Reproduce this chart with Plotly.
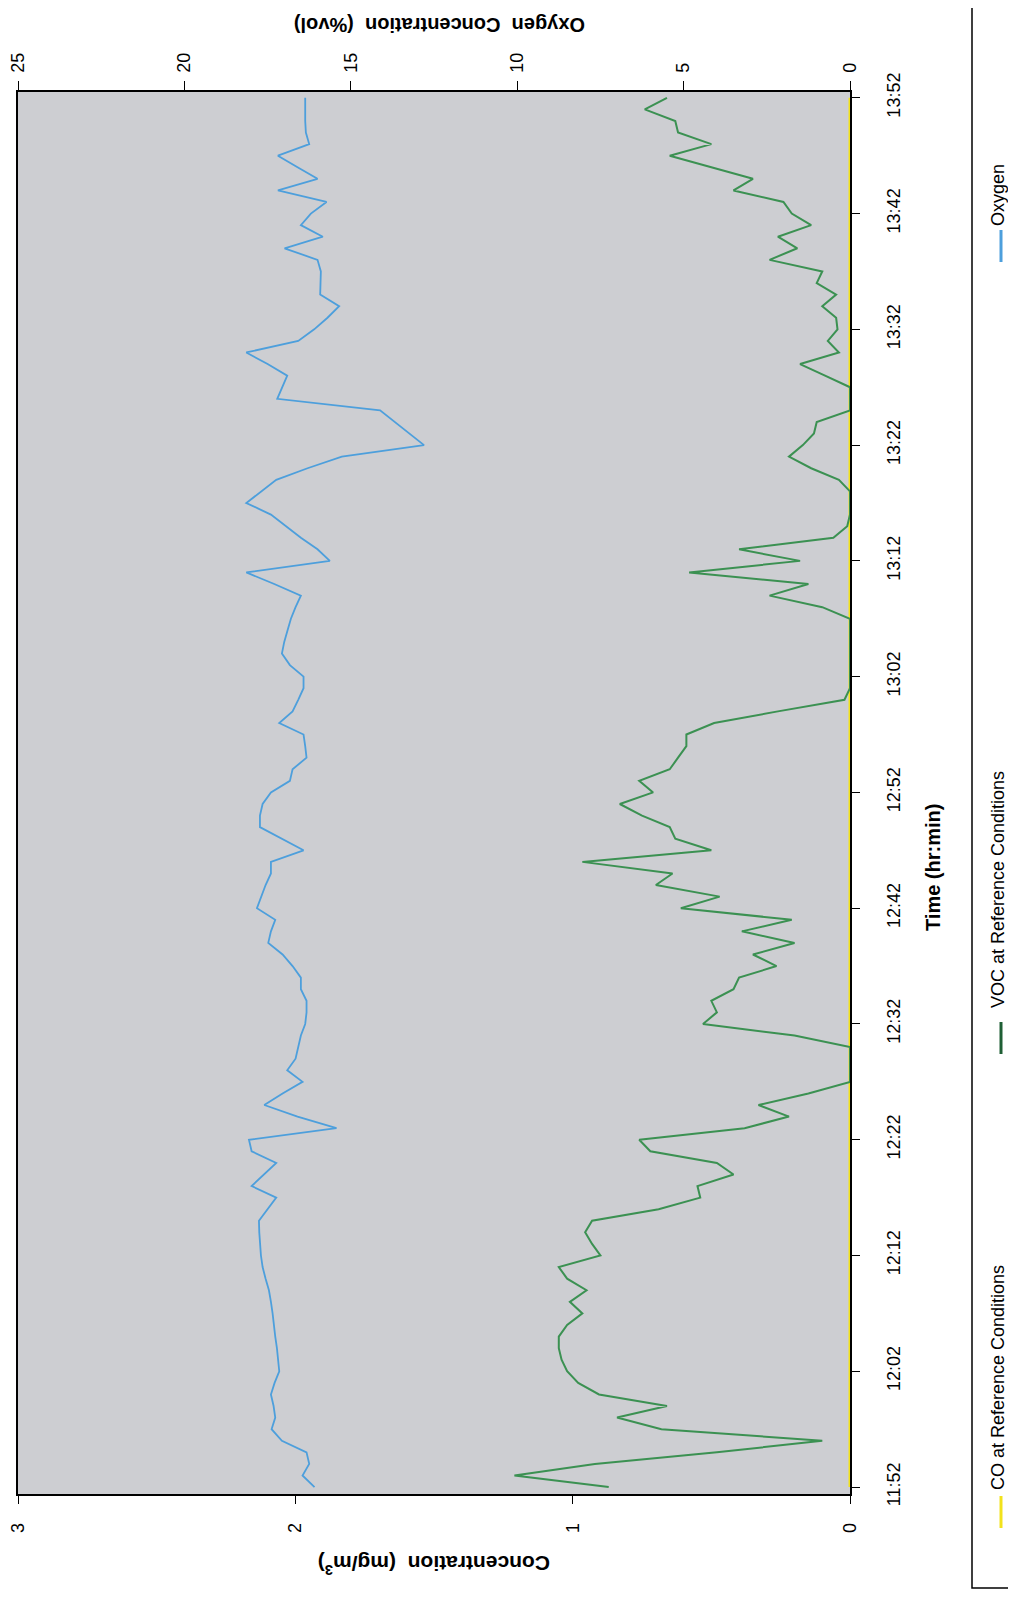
import plotly.graph_objects as go

# ---------------- data ----------------
# minutes after 11:52, one reading per minute
minutes = list(range(121))

time_tick_vals = [0, 10, 20, 30, 40, 50, 60, 70, 80, 90, 100, 110, 120]
time_tick_text = ["11:52", "12:02", "12:12", "12:22", "12:32", "12:42", "12:52",
                  "13:02", "13:12", "13:22", "13:32", "13:42", "13:52"]

conc_tick_vals = [0, 1, 2, 3]
oxy_tick_vals = [0, 5, 10, 15, 20, 25]

# CO at reference conditions (mg/m3) - flat at zero
co_ref = [0.0] * 121

# VOC at reference conditions (mg/m3)
voc_ref = [
    0.87, 1.21, 0.92, 0.48, 0.10, 0.68, 0.84, 0.66, 0.905, 0.98,
    1.02, 1.04, 1.05, 1.05, 1.02, 0.965, 1.01, 0.95, 1.02, 1.05,
    0.90, 0.93, 0.955, 0.93, 0.69, 0.54, 0.55, 0.42, 0.48, 0.72,
    0.76, 0.38, 0.22, 0.33, 0.15, 0.0, 0.0, 0.0, 0.0, 0.20,
    0.53, 0.48, 0.50, 0.42, 0.40, 0.265, 0.35, 0.20, 0.39, 0.21,
    0.61, 0.47, 0.70, 0.64, 0.965, 0.50, 0.63, 0.65, 0.75, 0.83,
    0.71, 0.76, 0.65, 0.62, 0.59, 0.59, 0.49, 0.26, 0.02, 0.0,
    0.0, 0.0, 0.0, 0.0, 0.0, 0.0, 0.10, 0.29, 0.15, 0.58,
    0.18, 0.40, 0.06, 0.01, 0.0, 0.0, 0.0, 0.04, 0.14, 0.22,
    0.17, 0.13, 0.12, 0.0, 0.0, 0.0, 0.09, 0.18, 0.04, 0.08,
    0.045, 0.05, 0.10, 0.05, 0.12, 0.10, 0.29, 0.19, 0.26, 0.14,
    0.21, 0.24, 0.42, 0.35, 0.50, 0.65, 0.50, 0.62, 0.63, 0.74,
    0.66,
]

# Oxygen (%vol)
oxygen = [
    16.09, 16.45, 16.25, 16.33, 17.07, 17.38, 17.27, 17.32, 17.40, 17.29,
    17.15, 17.18, 17.22, 17.27, 17.30, 17.35, 17.40, 17.46, 17.56, 17.65,
    17.70, 17.73, 17.75, 17.76, 17.50, 17.24, 17.98, 17.60, 17.24, 17.98,
    18.06, 15.43, 16.60, 17.60, 17.05, 16.45, 16.91, 16.66, 16.58, 16.50,
    16.37, 16.33, 16.33, 16.50, 16.50, 16.75, 17.05, 17.48, 17.40, 17.27,
    17.82, 17.70, 17.56, 17.40, 17.40, 16.42, 17.07, 17.73, 17.73, 17.65,
    17.40, 16.83, 16.75, 16.33, 16.37, 16.42, 17.15, 16.75, 16.58, 16.42,
    16.42, 16.83, 17.07, 17.00, 16.90, 16.80, 16.66, 16.50, 17.30, 18.14,
    15.63, 16.00, 16.50, 16.96, 17.40, 18.14, 17.70, 17.24, 16.30, 15.27,
    12.80, 13.23, 13.66, 14.12, 17.21, 17.05, 16.91, 17.50, 18.14, 16.58,
    16.10, 15.70, 15.35, 15.92, 15.90, 15.90, 16.00, 16.99, 15.84, 16.50,
    16.20, 15.73, 17.19, 16.00, 16.60, 17.19, 16.25, 16.35, 16.37, 16.37,
    16.37,
]

series_names = ["CO at Reference Conditions", "VOC at Reference Conditions", "Oxygen"]

# ---------------- styling / layout ----------------
# page coordinates (the browser page adds an 8 px body margin around the figure)
OFF = 8
PAGE_W, PAGE_H = 1016, 1600
W, H = PAGE_W - 2 * OFF, PAGE_H - 2 * OFF
PL, PR, PT, PB = 18, 850, 92, 1494  # plot area in page pixels

def px(xp):
    return (xp - PL) / (PR - PL)

def py(yp):
    return (PB - yp) / (PB - PT)

FONT = "Arial, Liberation Sans, Helvetica, sans-serif"
C_CO = "#f2e21c"
C_VOC = "#3b9152"
C_OXY = "#4d9fdc"

fig = go.Figure()

fig.add_trace(go.Scatter(x=co_ref, y=minutes, mode="lines", name=series_names[0],
                         line=dict(color=C_CO, width=3), xaxis="x", yaxis="y"))
fig.add_trace(go.Scatter(x=voc_ref, y=minutes, mode="lines", name=series_names[1],
                         line=dict(color=C_VOC, width=2), xaxis="x", yaxis="y"))
fig.add_trace(go.Scatter(x=oxygen, y=minutes, mode="lines", name=series_names[2],
                         line=dict(color=C_OXY, width=1.8), xaxis="x2", yaxis="y"))

tickfont = dict(family=FONT, size=18, color="black")

fig.update_layout(
    width=W, height=H, autosize=False,
    margin=dict(l=PL - OFF, r=W - (PR - OFF), t=PT - OFF, b=H - (PB - OFF), pad=0),
    paper_bgcolor="white",
    plot_bgcolor="#cdced2",
    showlegend=False,
    xaxis=dict(
        range=[3, 0], tickvals=conc_tick_vals, tickangle=-90,
        ticks="outside", ticklen=8, tickwidth=1.2, tickcolor="black",
        showline=True, linecolor="black", linewidth=1.5,
        showgrid=False, zeroline=False, tickfont=tickfont,
        ticklabelstandoff=12, side="bottom", automargin=False,
        ticklabeloverflow="allow",
    ),
    xaxis2=dict(
        range=[25, 0], tickvals=oxy_tick_vals, tickangle=-90,
        overlaying="x", side="top", anchor="y",
        ticks="outside", ticklen=9, tickwidth=1.2, tickcolor="black",
        showline=True, linecolor="black", linewidth=1.5,
        showgrid=False, zeroline=False, tickfont=tickfont,
        ticklabelstandoff=5, automargin=False,
        ticklabeloverflow="allow",
    ),
    yaxis=dict(
        range=[-0.6, 120.5], tickvals=time_tick_vals, ticktext=time_tick_text,
        tickangle=-90, side="right",
        ticks="outside", ticklen=8, tickwidth=1.2, tickcolor="black",
        showline=True, linecolor="black", linewidth=1.5, mirror=True,
        showgrid=False, zeroline=False, tickfont=dict(family=FONT, size=18, color="black"),
        ticklabelstandoff=19, automargin=False,
        ticklabeloverflow="allow",
    ),
)

annotations = [
    dict(text="<b>Oxygen  Concentration  (%vol)</b>", x=px(440), y=py(25), textangle=180,
         font=dict(family=FONT, size=20, color="black")),
    dict(text="<b>Concentration  (mg/m<sup>3</sup>)</b>", x=px(434), y=py(1565), textangle=180,
         font=dict(family=FONT, size=21, color="black")),
    dict(text="<b>Time (hr:min)</b>", x=px(933), y=py(868), textangle=-90,
         font=dict(family=FONT, size=20, color="black")),
    dict(text=series_names[0], x=px(998), y=py(1378), textangle=-90,
         font=dict(family=FONT, size=18, color="black")),
    dict(text=series_names[1], x=px(998), y=py(890), textangle=-90,
         font=dict(family=FONT, size=18, color="black")),
    dict(text=series_names[2], x=px(998), y=py(195), textangle=-90,
         font=dict(family=FONT, size=18, color="black")),
]
for a in annotations:
    a.update(xref="paper", yref="paper", showarrow=False, xanchor="center", yanchor="middle")
fig.update_layout(annotations=annotations)

shapes = [
    # legend frame
    dict(type="rect", xref="paper", yref="paper", x0=px(972), x1=px(1040), y0=py(1588), y1=py(-20),
         line=dict(color="black", width=1.5), fillcolor="rgba(0,0,0,0)"),
    # legend samples
    dict(type="line", xref="paper", yref="paper", x0=px(1001), x1=px(1001), y0=py(1528), y1=py(1496),
         line=dict(color=C_CO, width=3)),
    dict(type="line", xref="paper", yref="paper", x0=px(1001), x1=px(1001), y0=py(1054), y1=py(1022),
         line=dict(color="#1f5f35", width=3)),
    dict(type="line", xref="paper", yref="paper", x0=px(1001), x1=px(1001), y0=py(262), y1=py(230),
         line=dict(color=C_OXY, width=3)),
]
fig.update_layout(shapes=shapes)

fig.write_html("out.html")
